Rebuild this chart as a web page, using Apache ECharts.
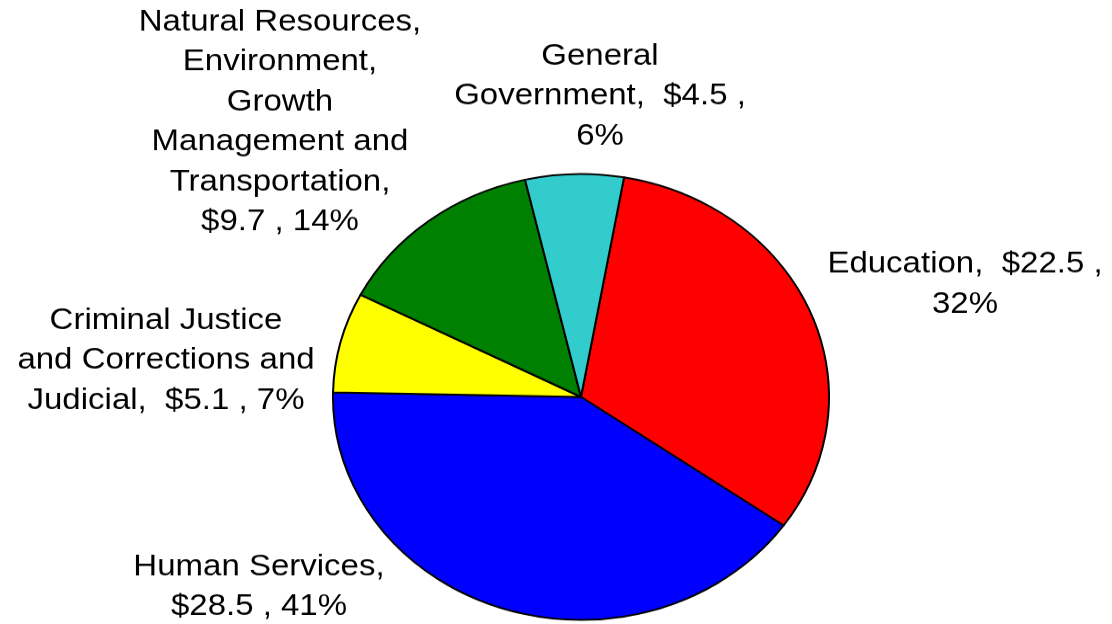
<!DOCTYPE html>
<html>
<head>
<meta charset="utf-8">
<script src="https://cdn.jsdelivr.net/npm/echarts@6/dist/echarts.min.js"></script>
<style>
  html, body { margin: 0; padding: 0; background: #ffffff; overflow: hidden; width: 1112px; height: 624px; }
  #wrap { width: 1112px; height: 624px; overflow: hidden; position: relative; }
  #chart { width: 1112px; height: 694px; transform: scaleY(0.899); transform-origin: 0 0; position: absolute; left: 0; top: 0; }
</style>
</head>
<body>
<div id="wrap"><div id="chart"></div></div>
<script>
// ---- data ----
const categories = [
  'Education',
  'Human Services',
  'Criminal Justice and Corrections and Judicial',
  'Natural Resources, Environment, Growth Management and Transportation',
  'General Government'
];
const values = [22.5, 28.5, 5.1, 9.7, 4.5];
const wrappedNames = [
  'Education',
  'Human Services',
  'Criminal Justice\nand Corrections and\nJudicial',
  'Natural Resources,\nEnvironment,\nGrowth\nManagement and\nTransportation',
  'General\nGovernment'
];
const colors = ['#FF0000', '#0000FF', '#FFFF00', '#008000', '#33CCCC'];

// label text separators (after name, after value)
const sepA = [',  $', ',\n$', ',  $', ',\n$', ',  $'];
const sepB = [' ,\n', ' , ', ' , ', ' , ', ' ,\n'];
// label block centres (chart space)
const labelX = [965, 259, 166, 280, 600];
const labelY = [316.6, 653, 401.3, 135.9, 107.1];

const chart = echarts.init(document.getElementById('chart'), null, { renderer: 'canvas' });
chart.setOption({
  animation: false,
  backgroundColor: '#ffffff',
  series: [{
    type: 'pie',
    center: [581, 441.5],
    radius: 248,
    startAngle: 80,
    clockwise: true,
    percentPrecision: 0,
    avoidLabelOverlap: false,
    emphasis: { disabled: true },
    itemStyle: { borderColor: '#000000', borderWidth: 2 },
    labelLine: { show: false },
    label: {
      show: true,
      position: 'outside',
      color: '#000000',
      fontFamily: '"Liberation Sans", Arial, sans-serif',
      fontSize: 33,
      lineHeight: 44.5,
      align: 'center',
      formatter: function (p) {
        const i = p.dataIndex;
        return wrappedNames[i] + sepA[i] + values[i].toFixed(1) + sepB[i] + p.percent + '%';
      }
    },
    labelLayout: function (p) {
      return { x: labelX[p.dataIndex], y: labelY[p.dataIndex], align: 'center', verticalAlign: 'middle', hideOverlap: false };
    },
    data: categories.map(function (c, i) {
      return { name: c, value: values[i], itemStyle: { color: colors[i] } };
    })
  }]
});
</script>
</body>
</html>
